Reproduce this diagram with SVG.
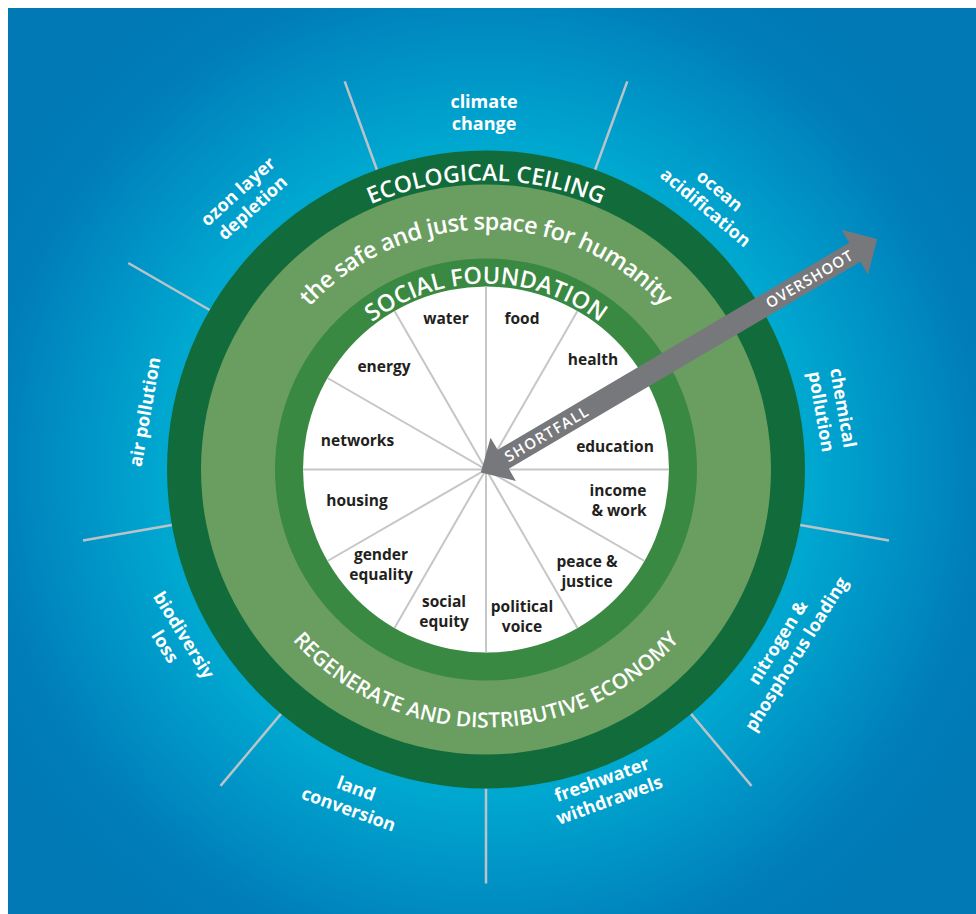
<svg xmlns="http://www.w3.org/2000/svg" width="976" height="914" viewBox="0 0 976 914">
<defs>
<radialGradient id="bg" gradientUnits="userSpaceOnUse" cx="486" cy="469.5" r="560">
<stop offset="0" stop-color="#00B2D6"/>
<stop offset="0.58" stop-color="#00A8D0"/>
<stop offset="0.75" stop-color="#0090C4"/>
<stop offset="0.88" stop-color="#007EB9"/>
<stop offset="1" stop-color="#0079B5"/>
</radialGradient>
<path id="arcEco" d="M197,469.5 A289,289 0 0 1 775,469.5"/>
<path id="arcSafe" d="M246,469.5 A240,240 0 0 1 726,469.5"/>
<path id="arcSoc" d="M300,469.5 A186,186 0 0 1 672,469.5"/>
<path id="arcReg" d="M228,469.5 A258,258 0 0 0 744,469.5"/>
</defs>
<style>
.t{font-family:'Open Sans','Noto Sans','DejaVu Sans',sans-serif;font-weight:700}
.s{font-family:'Open Sans','Noto Sans','DejaVu Sans',sans-serif;font-weight:600}
.in{font-size:15.5px;fill:#231F20;text-anchor:middle}
.out{font-size:18px;fill:#fff;text-anchor:middle}
.ring{fill:#fff;text-anchor:middle}
.spoke{stroke:#BAC4C8;stroke-width:2.5}
.div{stroke:#C6C6C6;stroke-width:2}
</style>
<rect width="976" height="914" fill="#fff"/>
<rect x="8" y="8" width="968" height="906" fill="url(#bg)"/>

<g id="boundary-spokes">
<line class="spoke" x1="595.1" y1="169.7" x2="627.3" y2="81.4"/>
<line class="spoke" x1="376.9" y1="169.7" x2="344.7" y2="81.4"/>
<line class="spoke" x1="209.7" y1="310" x2="128.3" y2="263"/>
<line class="spoke" x1="800.2" y1="524.9" x2="889" y2="540.6"/>
<line class="spoke" x1="171.8" y1="524.9" x2="83" y2="540.6"/>
<line class="spoke" x1="691" y1="713.9" x2="751.5" y2="785.9"/>
<line class="spoke" x1="281" y1="713.9" x2="220.5" y2="785.9"/>
<line class="spoke" x1="486" y1="788.5" x2="486" y2="883.5"/>
</g>

<g id="ecological-ceiling">
<circle cx="486" cy="469.5" r="319" fill="#116B3A"/>
<text class="s ring" font-size="23"><textPath href="#arcEco" startOffset="50%">ECOLOGICAL CEILING</textPath></text>
</g>
<g id="safe-space">
<circle cx="486" cy="469.5" r="285" fill="#6A9E61"/>
<text class="s ring" font-size="23.5" letter-spacing="-0.5"><textPath href="#arcSafe" startOffset="50%">the safe and just space for humanity</textPath></text>
<text class="s ring" font-size="21"><textPath href="#arcReg" startOffset="50%">REGENERATE AND DISTRIBUTIVE ECONOMY</textPath></text>
</g>
<g id="social-foundation">
<circle cx="486" cy="469.5" r="211" fill="#3A8943"/>
<text class="s ring" font-size="23.5"><textPath href="#arcSoc" startOffset="50%">SOCIAL FOUNDATION</textPath></text>
</g>
<g id="social-core">
<circle cx="486" cy="469.5" r="183" fill="#fff"/>
<line class="div" x1="486" y1="286.5" x2="486" y2="652.5"/>
<line class="div" x1="303" y1="469.5" x2="669" y2="469.5"/>
<line class="div" x1="394.5" y1="311" x2="577.5" y2="628"/>
<line class="div" x1="577.5" y1="311" x2="394.5" y2="628"/>
<line class="div" x1="327.5" y1="378" x2="644.5" y2="561"/>
<line class="div" x1="644.5" y1="378" x2="327.5" y2="561"/>
</g>

<g id="social-labels" class="t in">
<text x="446" y="324">water</text>
<text x="522" y="324">food</text>
<text x="384" y="372">energy</text>
<text x="593" y="365">health</text>
<text x="357.5" y="446">networks</text>
<text x="615" y="452">education</text>
<text x="357" y="506">housing</text>
<text x="618" y="496">income<tspan x="619" y="516">&amp; work</tspan></text>
<text x="381" y="560">gender<tspan x="381" y="580">equality</tspan></text>
<text x="587" y="567">peace &amp;<tspan x="587" y="587">justice</tspan></text>
<text x="444" y="607">social<tspan x="444" y="627">equity</tspan></text>
<text x="522" y="612">political<tspan x="522" y="632">voice</tspan></text>
</g>

<g id="ecological-labels" class="t out">
<text transform="translate(484,114)"><tspan x="0" y="-6">climate</tspan><tspan x="0" y="16">change</tspan></text>
<text transform="translate(712,200) rotate(40)"><tspan x="0" y="-6">ocean</tspan><tspan x="0" y="16">acidification</tspan></text>
<text transform="translate(831,410) rotate(80)"><tspan x="0" y="-6">chemical</tspan><tspan x="0" y="16">pollution</tspan></text>
<text transform="translate(788,649) rotate(-58)"><tspan x="0" y="-6">nitrogen &amp;</tspan><tspan x="0" y="16">phosphorus loading</tspan></text>
<text transform="translate(606,791) rotate(-20)"><tspan x="0" y="-6">freshwater</tspan><tspan x="0" y="16">withdrawels</tspan></text>
<text transform="translate(352,800) rotate(20)"><tspan x="0" y="-6">land</tspan><tspan x="0" y="16">conversion</tspan></text>
<text transform="translate(173.5,641.5) rotate(58)"><tspan x="0" y="-6">biodiversiy</tspan><tspan x="0" y="16">loss</tspan></text>
<text transform="translate(145,412) rotate(-80)"><tspan x="0" y="6">air pollution</tspan></text>
<text transform="translate(246,200.5) rotate(-42)"><tspan x="0" y="-6">ozon layer</tspan><tspan x="0" y="16">depletion</tspan></text>
</g>

<g id="connectors">
<g id="arrow" transform="translate(486,469.5) rotate(-30.5)">
<polygon points="-6,0 20,-25 20,-11 428,-11 428,-26 454,0 428,26 428,11 20,11 20,25" fill="#77787B"/>
<text class="s" x="70" y="5.5" font-size="15" fill="#fff" text-anchor="middle" textLength="94" lengthAdjust="spacing">SHORTFALL</text>
<text class="s" x="375" y="5.5" font-size="15" fill="#fff" text-anchor="middle" textLength="98" lengthAdjust="spacing">OVERSHOOT</text>
</g>
</g>
</svg>
